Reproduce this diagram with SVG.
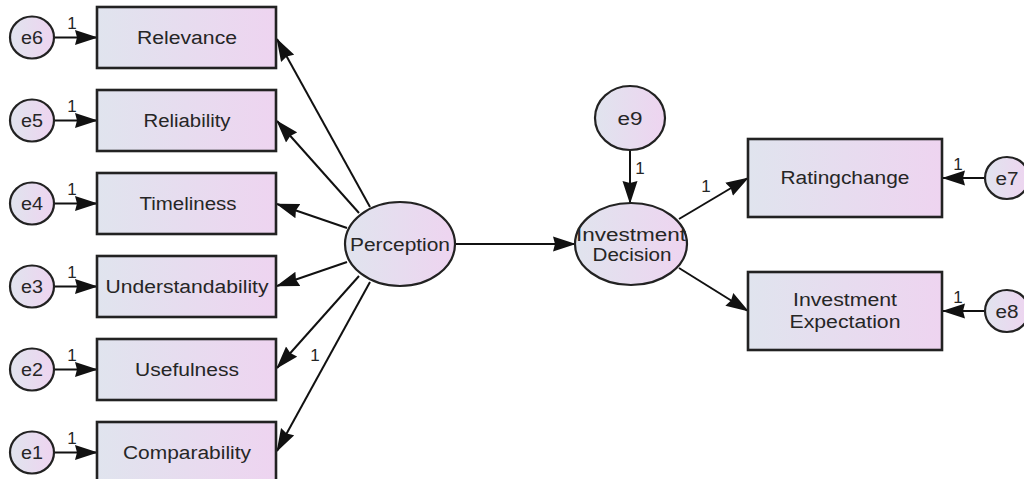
<svg xmlns="http://www.w3.org/2000/svg" width="1024" height="479" viewBox="0 0 1024 479">
  <defs>
    <linearGradient id="fillGrad" x1="0" y1="0" x2="1" y2="0">
      <stop offset="0" stop-color="#e0e4ee"/>
      <stop offset="1" stop-color="#eed4f0"/>
    </linearGradient>
    <marker id="arrow" markerUnits="userSpaceOnUse" markerWidth="23" markerHeight="16" refX="22" refY="8" orient="auto">
      <path d="M0,0.5 L23,8 L0,15.5 L2,8 Z" fill="#111"/>
    </marker>
    <style>
      .box { fill: url(#fillGrad); stroke: #222; stroke-width: 2.6; }
      .lat { fill: url(#fillGrad); stroke: #222; stroke-width: 2.2; }
      .lbl { font-family: "Liberation Sans", Arial, sans-serif; font-size: 18px; fill: #262626; text-anchor: middle; dominant-baseline: central; }
      .err { font-family: "Liberation Sans", Arial, sans-serif; font-size: 18px; fill: #262626; text-anchor: middle; dominant-baseline: central; }
      .one { font-family: "Liberation Sans", Arial, sans-serif; font-size: 17px; fill: #262626; text-anchor: middle; dominant-baseline: central; }
      .edge { stroke: #111; stroke-width: 2; fill: none; marker-end: url(#arrow); }
    </style>
  </defs>
  <rect width="1024" height="479" fill="#ffffff"/>

  <!-- connectors -->
  <g id="connectors">
    <!-- error terms to indicators -->
    <line class="edge" x1="54" y1="37.5" x2="97" y2="37.5"/>
    <line class="edge" x1="54" y1="120.5" x2="97" y2="120.5"/>
    <line class="edge" x1="54" y1="203.5" x2="97" y2="203.5"/>
    <line class="edge" x1="54" y1="286.5" x2="97" y2="286.5"/>
    <line class="edge" x1="54" y1="369.5" x2="97" y2="369.5"/>
    <line class="edge" x1="54" y1="452.5" x2="97" y2="452.5"/>
    <!-- Perception loadings -->
    <line class="edge" x1="370" y1="207" x2="277" y2="39"/>
    <line class="edge" x1="359" y1="213" x2="277" y2="121"/>
    <line class="edge" x1="347" y1="228" x2="277" y2="204"/>
    <line class="edge" x1="347" y1="262" x2="277" y2="286"/>
    <line class="edge" x1="359" y1="276" x2="277" y2="368"/>
    <line class="edge" x1="370" y1="282" x2="277" y2="451"/>
    <!-- structural path -->
    <line class="edge" x1="455" y1="244" x2="575" y2="244"/>
    <line class="edge" x1="630" y1="150" x2="630" y2="203"/>
    <line class="edge" x1="679" y1="219" x2="748" y2="178"/>
    <line class="edge" x1="679" y1="268" x2="748" y2="311"/>
    <!-- error terms to outcome indicators -->
    <line class="edge" x1="985" y1="178" x2="943" y2="178"/>
    <line class="edge" x1="985" y1="311" x2="943" y2="311"/>
    <!-- fixed loadings -->
    <text class="one" x="72" y="23">1</text>
    <text class="one" x="72" y="106">1</text>
    <text class="one" x="72" y="189">1</text>
    <text class="one" x="72" y="272">1</text>
    <text class="one" x="72" y="355">1</text>
    <text class="one" x="72" y="438">1</text>
    <text class="one" x="315" y="355">1</text>
    <text class="one" x="640" y="168">1</text>
    <text class="one" x="706" y="186">1</text>
    <text class="one" x="958" y="164">1</text>
    <text class="one" x="958" y="297">1</text>
  </g>

  <!-- observed indicators of Perception -->
  <g id="relevance"><rect class="box" x="97" y="7" width="179" height="61"/><text class="lbl" x="187" y="38" textLength="100" lengthAdjust="spacingAndGlyphs">Relevance</text></g>
  <g id="reliability"><rect class="box" x="97" y="90" width="179" height="61"/><text class="lbl" x="187" y="121" textLength="87" lengthAdjust="spacingAndGlyphs">Reliability</text></g>
  <g id="timeliness"><rect class="box" x="97" y="173" width="179" height="61"/><text class="lbl" x="188" y="204" textLength="97" lengthAdjust="spacingAndGlyphs">Timeliness</text></g>
  <g id="understandability"><rect class="box" x="97" y="256" width="179" height="61"/><text class="lbl" x="187" y="287" textLength="163" lengthAdjust="spacingAndGlyphs">Understandability</text></g>
  <g id="usefulness"><rect class="box" x="97" y="339" width="179" height="61"/><text class="lbl" x="187" y="370" textLength="104" lengthAdjust="spacingAndGlyphs">Usefulness</text></g>
  <g id="comparability"><rect class="box" x="97" y="422" width="179" height="61"/><text class="lbl" x="187" y="453" textLength="128" lengthAdjust="spacingAndGlyphs">Comparability</text></g>

  <!-- error terms e1..e6 -->
  <g id="e6"><ellipse class="lat" cx="32" cy="37.5" rx="22" ry="21"/><text class="err" x="32" y="38" textLength="22" lengthAdjust="spacingAndGlyphs">e6</text></g>
  <g id="e5"><ellipse class="lat" cx="32" cy="120.5" rx="22" ry="21"/><text class="err" x="32" y="121" textLength="22" lengthAdjust="spacingAndGlyphs">e5</text></g>
  <g id="e4"><ellipse class="lat" cx="32" cy="203.5" rx="22" ry="21"/><text class="err" x="32" y="204" textLength="22" lengthAdjust="spacingAndGlyphs">e4</text></g>
  <g id="e3"><ellipse class="lat" cx="32" cy="286.5" rx="22" ry="21"/><text class="err" x="32" y="287" textLength="22" lengthAdjust="spacingAndGlyphs">e3</text></g>
  <g id="e2"><ellipse class="lat" cx="32" cy="369.5" rx="22" ry="21"/><text class="err" x="32" y="370" textLength="22" lengthAdjust="spacingAndGlyphs">e2</text></g>
  <g id="e1"><ellipse class="lat" cx="32" cy="452.5" rx="22" ry="21"/><text class="err" x="32" y="453" textLength="22" lengthAdjust="spacingAndGlyphs">e1</text></g>

  <!-- latent constructs -->
  <g id="perception"><ellipse class="lat" cx="400" cy="244" rx="55" ry="42"/><text class="lbl" x="400" y="245" textLength="100" lengthAdjust="spacingAndGlyphs">Perception</text></g>
  <g id="investment-decision">
    <ellipse class="lat" cx="631" cy="244" rx="56" ry="41"/>
    <text class="lbl" x="631" y="235" textLength="110" lengthAdjust="spacingAndGlyphs">Investment</text>
    <text class="lbl" x="632" y="255" textLength="79" lengthAdjust="spacingAndGlyphs">Decision</text>
  </g>
  <g id="e9"><ellipse class="lat" cx="630" cy="118" rx="35" ry="32"/><text class="err" x="630" y="119" textLength="25" lengthAdjust="spacingAndGlyphs">e9</text></g>

  <!-- outcome indicators -->
  <g id="ratingchange"><rect class="box" x="748" y="139" width="194" height="78"/><text class="lbl" x="845" y="178" textLength="129" lengthAdjust="spacingAndGlyphs">Ratingchange</text></g>
  <g id="investment-expectation">
    <rect class="box" x="748" y="272" width="194" height="78"/>
    <text class="lbl" x="845" y="300" textLength="104" lengthAdjust="spacingAndGlyphs">Investment</text>
    <text class="lbl" x="845" y="322" textLength="111" lengthAdjust="spacingAndGlyphs">Expectation</text>
  </g>
  <g id="e7"><ellipse class="lat" cx="1007" cy="178" rx="22" ry="21"/><text class="err" x="1007" y="179" textLength="23" lengthAdjust="spacingAndGlyphs">e7</text></g>
  <g id="e8"><ellipse class="lat" cx="1007" cy="311" rx="22" ry="21"/><text class="err" x="1007" y="312" textLength="23" lengthAdjust="spacingAndGlyphs">e8</text></g>
</svg>
